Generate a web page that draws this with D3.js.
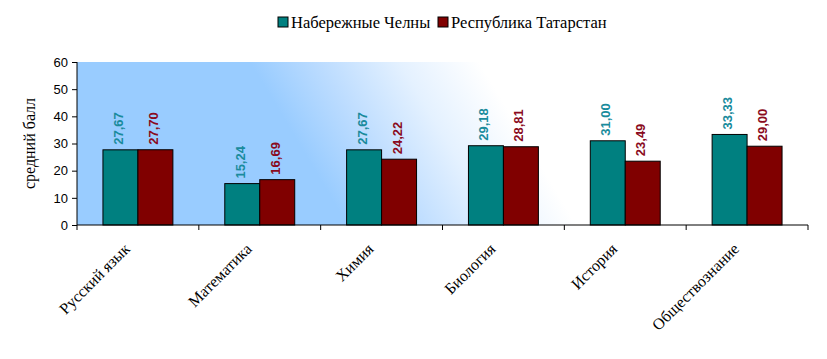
<!DOCTYPE html>
<html>
<head>
<meta charset="utf-8">
<script src="https://cdn.jsdelivr.net/npm/d3@7"></script>
<style>
  body { margin: 0; background: #fff; }
  svg { display: block; }
</style>
</head>
<body>
<div id="chart"></div>
<script>
// данные
var subjects = ["Русский язык", "Математика", "Химия", "Биология", "История", "Обществознание"];
var seriesNames = ["Набережные Челны", "Республика Татарстан"];
var chelny = [27.67, 15.24, 27.67, 29.18, 31.00, 33.33];
var tatarstan = [27.70, 16.69, 24.22, 28.81, 23.49, 29.00];
var yTicks = [0, 10, 20, 30, 40, 50, 60];

var W = 827, H = 359;
var pL = 77, pR = 808, pT = 62, pB = 225;
var barColors = ["#008080", "#800000"];
var labelColors = ["#1a8b9c", "#8a0a20"];

var svg = d3.select("#chart").append("svg")
  .attr("width", W)
  .attr("height", H);

var defs = svg.append("defs");
var grad = defs.append("linearGradient")
  .attr("id", "bg")
  .attr("gradientUnits", "userSpaceOnUse")
  .attr("x1", 250).attr("y1", 62)
  .attr("x2", 419).attr("y2", -39);
grad.append("stop").attr("offset", 0).attr("stop-color", "#99ccff");
grad.append("stop").attr("offset", 0.3).attr("stop-color", "#bcdcff");
grad.append("stop").attr("offset", 0.65).attr("stop-color", "#e4f1ff");
grad.append("stop").attr("offset", 1).attr("stop-color", "#ffffff");

var x0 = d3.scaleBand().domain(subjects).range([pL, pR]).padding(0);
var bw = x0.bandwidth();
var x1 = d3.scaleBand().domain([0, 1]).range([bw * 0.213, bw * 0.787]).padding(0);
var y = d3.scaleLinear().domain([0, 60]).range([pB, pT]);

// фон области построения
svg.append("rect")
  .attr("x", pL).attr("y", pT)
  .attr("width", pR - pL).attr("height", pB - pT)
  .attr("fill", "url(#bg)");

var rows = subjects.map(function(s, i){ return { name: s, vals: [chelny[i], tatarstan[i]] }; });

var groups = svg.selectAll(".grp").data(rows).enter().append("g")
  .attr("class", "grp")
  .attr("transform", function(d){ return "translate(" + x0(d.name) + ",0)"; });

groups.selectAll("rect").data(function(d){ return d.vals; }).enter().append("rect")
  .attr("x", function(d, i){ return x1(i); })
  .attr("y", function(d){ return y(d); })
  .attr("width", x1.bandwidth())
  .attr("height", function(d){ return y(0) - y(d); })
  .attr("fill", function(d, i){ return barColors[i]; })
  .attr("stroke", "#000")
  .attr("stroke-width", 1);

var fmt = function(v){ return d3.format(".2f")(v).replace(".", ","); };

groups.selectAll(".lbl").data(function(d){ return d.vals; }).enter().append("text")
  .attr("class", "lbl")
  .attr("transform", function(d, i){
    return "translate(" + (x1(i) + x1.bandwidth() / 2 - 2) + "," + (y(d) - 5) + ") rotate(-90)";
  })
  .attr("dy", "0.35em")
  .attr("text-anchor", "start")
  .attr("font-family", "Liberation Sans, Arial, sans-serif")
  .attr("font-weight", "bold")
  .attr("font-size", 13)
  .attr("fill", function(d, i){ return labelColors[i]; })
  .text(fmt);

// ось Y
var yAxis = svg.append("g")
  .attr("transform", "translate(" + pL + ",0)")
  .call(d3.axisLeft(y).tickValues(yTicks).tickSize(5).tickPadding(4));
yAxis.selectAll("text")
  .attr("font-family", "Liberation Sans, Arial, sans-serif")
  .attr("font-size", 13)
  .attr("fill", "#000");
yAxis.selectAll("line, path").attr("stroke", "#000");
yAxis.select(".domain").attr("d", "M0," + pT + "V" + pB);

svg.append("text")
  .attr("transform", "translate(35," + ((pT + pB) / 2) + ") rotate(-90)")
  .attr("text-anchor", "middle")
  .attr("font-family", "Liberation Serif, Times New Roman, serif")
  .attr("font-size", 16)
  .text("средний балл");

// ось X
var xg = svg.append("g").attr("transform", "translate(0," + pB + ")");
xg.append("line")
  .attr("x1", pL).attr("x2", pR)
  .attr("stroke", "#000");
var bounds = subjects.map(function(s){ return x0(s); }).concat([pR]);
xg.selectAll(".tk").data(bounds).enter().append("line")
  .attr("x1", function(d){ return d; }).attr("x2", function(d){ return d; })
  .attr("y1", 0).attr("y2", 5)
  .attr("stroke", "#000");
xg.selectAll(".xl").data(subjects).enter().append("text")
  .attr("transform", function(d){
    return "translate(" + (x0(d) + bw / 2 - 11) + ",21) rotate(-45)";
  })
  .attr("text-anchor", "end")
  .attr("dy", "0.35em")
  .attr("font-family", "Liberation Serif, Times New Roman, serif")
  .attr("font-size", 16)
  .text(function(d){ return d; });

// легенда
var legend = svg.append("g").attr("transform", "translate(278,17)");
var lx = [0, 160];
seriesNames.forEach(function(n, i){
  var g = legend.append("g").attr("transform", "translate(" + lx[i] + ",0)");
  g.append("rect")
    .attr("width", 10).attr("height", 10)
    .attr("fill", barColors[i])
    .attr("stroke", "#000");
  g.append("text")
    .attr("x", 13).attr("y", 5)
    .attr("dy", "0.35em")
    .attr("font-family", "Liberation Serif, Times New Roman, serif")
    .attr("font-size", 16.5)
    .text(n);
});
</script>
</body>
</html>
